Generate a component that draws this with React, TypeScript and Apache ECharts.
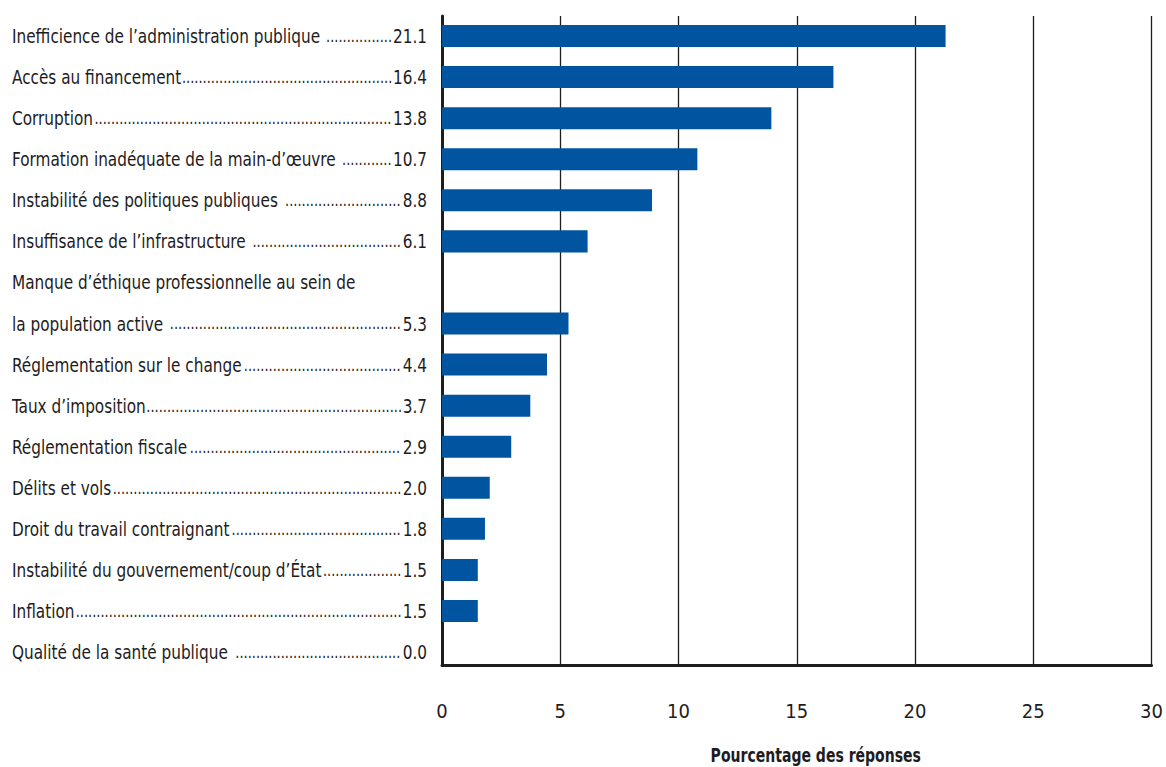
import React, { useEffect, useRef } from "react";
import * as echarts from "echarts";

const categories = [
  "Inefficience de l’administration publique",
  "Accès au financement",
  "Corruption",
  "Formation inadéquate de la main-d’œuvre",
  "Instabilité des politiques publiques",
  "Insuffisance de l’infrastructure",
  "Manque d’éthique professionnelle au sein de la population active",
  "Réglementation sur le change",
  "Taux d’imposition",
  "Réglementation fiscale",
  "Délits et vols",
  "Droit du travail contraignant",
  "Instabilité du gouvernement/coup d’État",
  "Inflation",
  "Qualité de la santé publique",
];
const values = [21.1, 16.4, 13.8, 10.7, 8.8, 6.1, 5.3, 4.4, 3.7, 2.9, 2.0, 1.8, 1.5, 1.5, 0.0];
const wrapped: Record<string, string[]> = {
  "Manque d’éthique professionnelle au sein de la population active": [
    "Manque d’éthique professionnelle au sein de",
    "la population active ",
  ],
};
const spaced = new Set([
  "Inefficience de l’administration publique",
  "Formation inadéquate de la main-d’œuvre",
  "Instabilité des politiques publiques",
  "Insuffisance de l’infrastructure",
  "Qualité de la santé publique",
]);
const xTicks = { min: 0, max: 30, interval: 5 };
const axisTitle = "Pourcentage des réponses";

const FONT = "'Liberation Sans Narrow', 'DejaVu Sans Condensed', 'Noto Sans', sans-serif";
const FS = 20;
const DOT_FS = 17;
const SX = 0.85;
const TEXT = "#1e1c1d";
const BAR = "#0054a0";

export default function App() {
  const ref = useRef<HTMLDivElement>(null);
  useEffect(() => {
    document.body.style.margin = "0";
    if (!ref.current) return;
    const chart = echarts.init(ref.current, null, { renderer: "svg" });

    const canvas = document.createElement("canvas");
    const ctx = canvas.getContext("2d")!;
    const measure = (t: string, fs: number) => {
      ctx.font = `normal normal ${fs}px ${FONT}`;
      return ctx.measureText(t).width;
    };

    type Row = { label: string; value: number | null };
    const rows: Row[] = [];
    categories.forEach((c, i) => {
      if (wrapped[c]) {
        rows.push({ label: wrapped[c][0], value: null });
        rows.push({ label: wrapped[c][1], value: values[i] });
      } else {
        rows.push({ label: spaced.has(c) ? c + " " : c, value: values[i] });
      }
    });

    chart.setOption({
      animation: false,
      grid: [
        { left: 442, right: 8, top: 15.5, bottom: 94.4, containLabel: false },
        { left: 442, right: 8, top: 16, bottom: 102, containLabel: false },
      ],
      xAxis: [
        { type: "value", gridIndex: 0, min: xTicks.min, max: xTicks.max, interval: xTicks.interval, show: false },
        {
          type: "value",
          gridIndex: 1,
          min: xTicks.min,
          max: xTicks.max,
          interval: xTicks.interval,
          axisLine: { show: true, onZero: false, lineStyle: { color: TEXT, width: 3 } },
          axisTick: { show: false },
          splitLine: { show: true, lineStyle: { color: TEXT, width: 1.3 } },
          axisLabel: { margin: 36, fontFamily: FONT, fontSize: FS, color: TEXT },
        },
      ],
      yAxis: [
        {
          type: "category",
          gridIndex: 0,
          inverse: true,
          data: rows.map((r) => r.label),
          axisLine: { show: false },
          axisTick: { show: false },
          splitLine: { show: false },
          axisLabel: { show: false },
        },
        {
          type: "value",
          gridIndex: 1,
          min: 0,
          max: 1,
          axisLine: { show: true, onZero: false, lineStyle: { color: TEXT, width: 3 } },
          axisTick: { show: false },
          splitLine: { show: false },
          axisLabel: { show: false },
        },
      ],
      series: [
        {
          type: "bar",
          xAxisIndex: 0,
          yAxisIndex: 0,
          data: rows.map((r) => r.value),
          barWidth: "53.6%",
          itemStyle: { color: BAR },
          silent: true,
        },
      ],
    });

    const LABEL_W = 415 / SX;
    const dotW = measure(".", DOT_FS);
    const labelX = 12;
    const graphics: any[] = rows.map((r, i) => {
      const y = chart.convertToPixel({ yAxisIndex: 0 }, i) as number;
      const rich: any = {
        n: { fontFamily: FONT, fontSize: FS, fill: TEXT },
      };
      let text = `{n|${r.label}}`;
      if (r.value !== null) {
        const vs = r.value.toFixed(1);
        const nameW = measure(r.label, FS);
        const valW = measure(vs, FS);
        const box = LABEL_W - nameW - valW;
        const n = Math.max(0, Math.floor((box - 1) / dotW));
        rich.d = { fontFamily: FONT, fontSize: DOT_FS, fill: TEXT, width: box, align: "right" };
        rich.v = { fontFamily: FONT, fontSize: FS, fill: TEXT };
        text += `{d|${".".repeat(n)}}{v|${vs}}`;
      }
      return {
        type: "text",
        x: labelX,
        y,
        scaleX: SX,
        silent: true,
        style: { text, rich, x: 0, y: 0, align: "left", verticalAlign: "middle", fontFamily: FONT, fontSize: FS, fill: TEXT },
      };
    });

    const gridRight = chart.convertToPixel({ xAxisIndex: 1 }, xTicks.max) as number;
    const gridLeft = chart.convertToPixel({ xAxisIndex: 1 }, xTicks.min) as number;
    graphics.push({
      type: "text",
      x: (gridLeft + gridRight) / 2 + 19,
      y: 755,
      scaleX: 0.78,
      silent: true,
      style: {
        text: axisTitle,
        x: 0,
        y: 0,
        align: "center",
        verticalAlign: "middle",
        fontFamily: FONT,
        fontSize: FS,
        fontWeight: "bold",
        fill: TEXT,
      },
    });

    chart.setOption({ graphic: graphics });
    return () => chart.dispose();
  }, []);
  return <div ref={ref} style={{ width: 1166, height: 767 }} />;
}
